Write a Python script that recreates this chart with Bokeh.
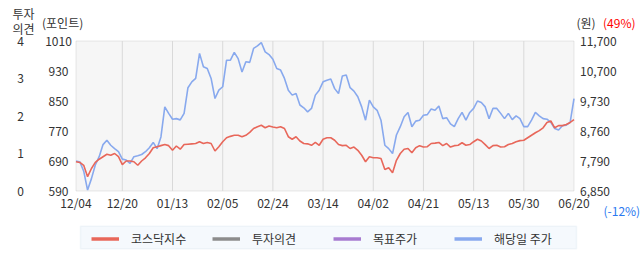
from bokeh.plotting import figure
from bokeh.models import Range1d, Legend, LegendItem, Label, BoxAnnotation
from bokeh.core.properties import value
from bokeh.embed import file_html
from bokeh.resources import INLINE

# ---- data ----
tick_idx = [0, 12, 25, 38, 51, 64, 77, 90, 103, 116, 129]
tick_labels = ["12/04", "12/20", "01/13", "02/05", "02/24", "03/14",
               "04/02", "04/21", "05/13", "05/30", "06/20"]

kosdaq = [672, 670, 662, 630, 653, 670, 679, 686, 693, 690,
          695, 686, 664, 674, 674, 672, 662, 674, 683, 695,
          711, 714, 717, 720, 717, 704, 716, 707, 720, 721,
          722, 723, 728, 723, 726, 723, 702, 714, 728, 739,
          743, 746, 746, 742, 746, 754, 765, 770, 774, 767,
          772, 769, 767, 770, 765, 742, 735, 742, 730, 723,
          722, 718, 726, 718, 735, 739, 739, 732, 720, 717,
          718, 709, 713, 704, 690, 672, 686, 683, 683, 681,
          650, 655, 641, 676, 695, 707, 709, 697, 711, 717,
          713, 714, 723, 724, 726, 717, 723, 713, 717, 718,
          725, 718, 720, 728, 735, 730, 720, 709, 717, 718,
          713, 714, 720, 723, 728, 731, 732, 739, 746, 753,
          759, 767, 782, 786, 767, 773, 773, 776, 782, 790]

price = [7820, 7790, 7490, 6880, 7250, 7690, 7960, 8350, 8490, 8330,
         8220, 8120, 7880, 7850, 7740, 7960, 7990, 8030, 8120, 8250,
         8420, 8220, 8600, 9570, 9360, 9170, 9190, 9150, 9360, 10190,
         10380, 10490, 11300, 10870, 10810, 10490, 9840, 10110, 10220, 11080,
         11080, 11330, 11130, 10700, 11030, 11010, 11460, 11540, 11650, 11350,
         11260, 11110, 10810, 10760, 10490, 10110, 9950, 10000, 9630, 9540,
         9410, 9520, 9950, 10110, 10380, 10430, 10470, 10160, 10000, 10570,
         10600, 10190, 10080, 9900, 9570, 9140, 9790, 9570, 9460, 9140,
         8330, 8220, 8060, 8660, 8930, 9250, 9390, 8930, 9110, 9140,
         9300, 9320, 9500, 9460, 9600, 9190, 9220, 9020, 8930, 9190,
         9390, 9140, 9390, 9520, 9760, 9710, 9570, 9190, 9520, 9520,
         9360, 9190, 9360, 9160, 9280, 9190, 8930, 8930, 9140, 9390,
         9280, 9190, 9170, 9070, 8870, 8820, 8960, 8980, 9070, 9840]

opinion_x, opinion_vals = [], []      # 투자의견: no data shown
target_x, target_vals = [], []        # 목표주가: no data shown

point_labels = ["590", "690", "770", "850", "930", "1010"]
price_labels = ["6,850", "7,790", "8,760", "9,730", "10,700", "11,700"]
opinion_labels = ["0", "1", "2", "3", "4"]
series_names = ["코스닥지수", "투자의견", "목표주가", "해당일 주가"]

pmin, pmax = 590, 1010          # 포인트 axis
rmin, rmax = 6850, 11700        # 원 axis
omin, omax = 0, 4               # 투자의견 axis

# ---- layout / style ----
W, H = 642, 268
PL, PR, PT, PB = 75.5, 573.5, 40.5, 190.5     # plot area in canvas pixels
FONT = "Noto Sans CJK KR"
FS = "12px"
TXT = "#333333"
RED = "#e8675a"
BLUE = "#88a9ee"
GRAY = "#8c8c8c"
PURPLE = "#a77bd0"
NAN = float("nan")

idx = list(range(len(kosdaq)))
n_last = len(idx) - 1

def xr():
    k = n_last / (PR - PL)
    return Range1d(0 - PL * k, n_last + (W - PR) * k)

def yr(lo, hi):
    k = (hi - lo) / (PB - PT)
    return Range1d(lo - (H - PB) * k, hi + PT * k)

p = figure(width=W, height=H, output_backend="svg", toolbar_location=None,
           x_range=xr(), y_range=yr(pmin, pmax),
           x_axis_location=None, y_axis_location=None, min_border=0)
p.title.visible = False
p.grid.visible = False
p.outline_line_color = None
p.background_fill_color = "white"
p.border_fill_color = "white"
p.extra_y_ranges = {"price": yr(rmin, rmax), "opinion": yr(omin, omax)}

# plot area
p.add_layout(BoxAnnotation(left=0, right=n_last, bottom=pmin, top=pmax,
                           fill_color="#f6f6f6", fill_alpha=1,
                           line_color="#b4b4b4", line_width=1, level="underlay"))
inner = tick_idx[1:-1]
p.segment(x0=inner, y0=pmin, x1=inner, y1=pmax, line_color="#d9d9d9", line_width=1)

# tick labels via the scales
tstyle = dict(text_font=value(FONT), text_font_size=FS, text_color=TXT)
p.text(x=tick_idx, y=pmin, text=tick_labels, text_align="center",
       text_baseline="top", y_offset=3, **tstyle)
n = len(point_labels) - 1
pt_ticks = [pmin + (pmax - pmin) * k / n for k in range(n + 1)]
p.text(x=0, y=pt_ticks, text=point_labels, text_align="center",
       text_baseline="middle", x_offset=-17.5, **tstyle)
op_ticks = list(range(omin, omax + 1))
p.text(x=0, y=op_ticks, text=opinion_labels, y_range_name="opinion",
       text_align="center", text_baseline="middle", x_offset=-55.5, **tstyle)
n2 = len(price_labels) - 1
pr_ticks = [rmin + (rmax - rmin) * k / n2 for k in range(n2 + 1)]
p.text(x=n_last, y=pr_ticks, text=price_labels, y_range_name="price",
       text_align="left", text_baseline="middle", x_offset=6, **tstyle)

# data lines
p.line(idx, price, y_range_name="price", line_color=BLUE, line_width=1.6)
p.line(idx, kosdaq, line_color=RED, line_width=1.6)
p.line(opinion_x, opinion_vals, y_range_name="opinion", line_color=GRAY, line_width=1.6)
p.line(target_x, target_vals, y_range_name="price", line_color=PURPLE, line_width=1.6)

# legend swatches (no visible data)
lk = p.line([NAN], [NAN], line_color=RED, line_width=3.5)
lo = p.line([NAN], [NAN], line_color=GRAY, line_width=3.5)
lt = p.line([NAN], [NAN], line_color=PURPLE, line_width=3.5)
lp = p.line([NAN], [NAN], line_color=BLUE, line_width=3.5)
p.add_layout(BoxAnnotation(left=80, right=576, bottom=H - 248.3, top=H - 225.7,
                           left_units="screen", right_units="screen",
                           bottom_units="screen", top_units="screen",
                           fill_color="#f5f9fd", fill_alpha=1,
                           line_color="#d6e4ee", line_width=1.5))
legend = Legend(items=[LegendItem(label=s, renderers=[r])
                       for s, r in zip(series_names, [lk, lo, lt, lp])],
                orientation="horizontal", location=(91, H - 246.5),
                glyph_width=28, glyph_height=13, label_height=13,
                label_width=71, label_standoff=12, spacing=10, padding=0, margin=0,
                background_fill_alpha=0, border_line_color=None,
                label_text_font=FONT, label_text_font_size=FS,
                label_text_color=TXT)
p.add_layout(legend, "center")

# header / footer texts
def lab(text, x, y, color=TXT):
    p.add_layout(Label(x=x, y=H - y, x_units="screen", y_units="screen", text=text,
                       text_font=FONT, text_font_size=FS, text_color=color,
                       text_baseline="middle", text_align="left"))

lab("투자", 12, 13.3)
lab("의견", 12, 28)
lab("(포인트)", 41.5, 22)
lab("(원)", 576, 21.7)
lab("(49%)", 602.5, 21.7, "#ff0000")
lab("(-12%)", 603, 209.6, "#2a78f0")

open("out.html", "w").write(file_html(p, INLINE))
